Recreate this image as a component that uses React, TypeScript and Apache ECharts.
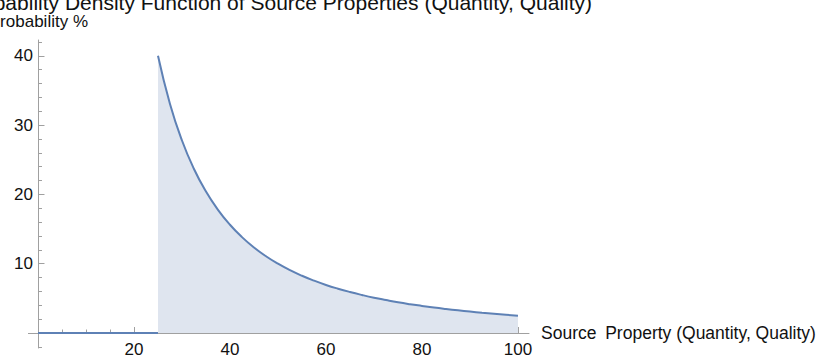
import React, { useEffect, useRef } from "react";
import * as echarts from "echarts";

// ---- data ----
const xValues = [
  25, 27.5, 30, 32.5, 35, 37.5, 40, 42.5, 45, 47.5, 50, 52.5, 55, 57.5, 60, 62.5,
  65, 67.5, 70, 72.5, 75, 77.5, 80, 82.5, 85, 87.5, 90, 92.5, 95, 97.5, 100,
];
const pdfValues = [
  40, 33.06, 27.78, 23.67, 20.41, 17.78, 15.62, 13.84, 12.35, 11.08, 10.0, 9.07, 8.26, 7.56,
  6.94, 6.4, 5.92, 5.49, 5.1, 4.76, 4.44, 4.16, 3.91, 3.67, 3.46, 3.27, 3.09, 2.92, 2.77,
  2.63, 2.5,
];
const zeroSegmentX = [0, 25];
const zeroSegmentY = [0, 0];

const xMajorTicks = [20, 40, 60, 80, 100];
const xMinorTicks = [5, 10, 15, 25, 30, 35, 45, 50, 55, 65, 70, 75, 85, 90, 95];
const yMajorTicks = [10, 20, 30, 40];
const yMinorTicks = [-2, 2, 4, 6, 8, 12, 14, 16, 18, 22, 24, 26, 28, 32, 34, 36, 38, 42];

const TITLE = "Probability Density Function of Source Properties (Quantity, Quality)";
const Y_NAME = "Probability %";
const X_NAME = "Source\u2002Property (Quantity, Quality)";

const X_MIN = -2;
const X_MAX = 102.3;
const Y_MIN = -2.16;
const Y_MAX = 42.28;

const LINE_COLOR = "#5E81B5";
const FILL_COLOR = "#dfe5ef";
const AXIS_COLOR = "#a0a0a0";
const TEXT_COLOR = "#111111";
const FONT = "'Liberation Sans', Arial, sans-serif";

const W = 819;
const H = 358;
const GRID = { left: 28.4, right: 290, top: 40, bottom: 10 };

export default function App() {
  const ref = useRef<HTMLDivElement>(null);

  useEffect(() => {
    if (!ref.current) return;
    const chart = echarts.init(ref.current, null, { renderer: "svg" });

    const labelStyle = { color: TEXT_COLOR, fontSize: 17, fontFamily: FONT };

    // offsets that bring the secondary (major-tick) axes onto the zero lines
    const plotW = W - GRID.left - GRID.right;
    const plotH = H - GRID.top - GRID.bottom;
    const xZeroShift = ((0 - X_MIN) / (X_MAX - X_MIN)) * plotW;
    const yZeroShift = ((0 - Y_MIN) / (Y_MAX - Y_MIN)) * plotH;

    const option: any = {
      animation: false,
      grid: {
        ...GRID,
        containLabel: false,
        outerBoundsMode: "none",
      },
      xAxis: [
        {
          type: "value",
          min: X_MIN,
          max: X_MAX,
          position: "bottom",
          axisLine: { show: true, onZero: true, onZeroAxisIndex: 0, lineStyle: { color: AXIS_COLOR, width: 1 } },
          axisTick: { show: true, inside: true, length: 3.5, customValues: xMinorTicks, lineStyle: { color: AXIS_COLOR } },
          axisLabel: { show: false },
          splitLine: { show: false },
          name: X_NAME,
          nameLocation: "end",
          nameGap: 12,
          nameTextStyle: { color: TEXT_COLOR, fontSize: 17.5, fontFamily: FONT, verticalAlign: "middle", padding: [7, 0, 0, 0] },
        },
        {
          type: "value",
          min: X_MIN,
          max: X_MAX,
          position: "bottom",
          offset: -yZeroShift,
          axisLine: { show: false, onZero: false },
          axisTick: { show: true, inside: true, length: 6, customValues: xMajorTicks, lineStyle: { color: AXIS_COLOR } },
          axisLabel: { show: true, customValues: xMajorTicks, margin: 8, ...labelStyle },
          splitLine: { show: false },
        },
      ],
      yAxis: [
        {
          type: "value",
          min: Y_MIN,
          max: Y_MAX,
          position: "left",
          axisLine: { show: true, onZero: true, onZeroAxisIndex: 0, lineStyle: { color: AXIS_COLOR, width: 1 } },
          axisTick: { show: true, inside: true, length: 4, customValues: yMinorTicks, lineStyle: { color: AXIS_COLOR } },
          axisLabel: { show: false },
          splitLine: { show: false },
        },
        {
          type: "value",
          min: Y_MIN,
          max: Y_MAX,
          position: "left",
          offset: -xZeroShift,
          axisLine: { show: false, onZero: false },
          axisTick: { show: true, inside: true, length: 6.5, customValues: yMajorTicks, lineStyle: { color: AXIS_COLOR } },
          axisLabel: { show: true, customValues: yMajorTicks, margin: 5, ...labelStyle },
          splitLine: { show: false },
        },
      ],
      graphic: [
        {
          type: "text",
          x: -39,
          y: 2.7,
          style: {
            text: TITLE,
            fill: TEXT_COLOR,
            fontSize: 21,
            fontFamily: FONT,
            textAlign: "left",
            textVerticalAlign: "middle",
          },
        },
        {
          type: "text",
          x: 88,
          y: 21.1,
          style: {
            text: Y_NAME,
            fill: TEXT_COLOR,
            fontSize: 17,
            fontFamily: FONT,
            textAlign: "right",
            textVerticalAlign: "middle",
          },
        },
      ],
      series: [
        {
          type: "line",
          xAxisIndex: 0,
          yAxisIndex: 0,
          data: zeroSegmentX.map((x, i) => [x, zeroSegmentY[i]]),
          showSymbol: false,
          symbol: "none",
          lineStyle: { color: LINE_COLOR, width: 2 },
          z: 3,
        },
        {
          type: "line",
          xAxisIndex: 0,
          yAxisIndex: 0,
          data: xValues.map((x, i) => [x, pdfValues[i]]),
          smooth: 0.5,
          showSymbol: false,
          symbol: "none",
          lineStyle: { color: LINE_COLOR, width: 2 },
          areaStyle: { color: FILL_COLOR, opacity: 1 },
          z: 3,
        },
      ],
    };

    chart.setOption(option);
    return () => chart.dispose();
  }, []);

  return (
    <div
      ref={ref}
      style={{ position: "absolute", left: 0, top: 0, width: W, height: H }}
    />
  );
}
